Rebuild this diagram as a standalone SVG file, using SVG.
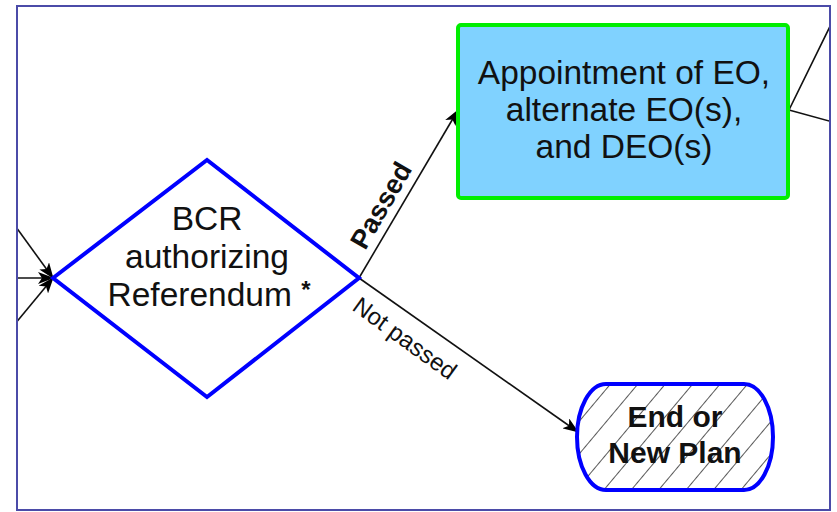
<svg xmlns="http://www.w3.org/2000/svg" width="837" height="512" viewBox="0 0 837 512">
  <style>
    .lbl { font-family: "Liberation Sans", Arial, sans-serif; fill: #111; text-anchor: middle; }
    .big { font-size: 33.5px; }
    .bold { font-weight: bold; }
    .edge { stroke: #111; stroke-width: 1.6; fill: none; }
  </style>
  <defs>
    <marker id="arrow" viewBox="0 0 16 12" markerWidth="16" markerHeight="12" refX="15" refY="6" orient="auto" markerUnits="userSpaceOnUse">
      <path d="M0,0 L16,6 L0,12 L4,6 z" fill="#000"/>
    </marker>
    <pattern id="hatch" width="21" height="21" patternUnits="userSpaceOnUse" patternTransform="rotate(40)">
      <line x1="0" y1="0" x2="0" y2="21" stroke="#111" stroke-width="1.4"/>
    </pattern>
    <clipPath id="frameClip">
      <rect x="17" y="6" width="813" height="504"/>
    </clipPath>
  </defs>

  <rect width="837" height="512" fill="#fff"/>

  <!-- connectors -->
  <g id="connectors" clip-path="url(#frameClip)">
    <line class="edge" x1="0" y1="205" x2="53" y2="278" marker-end="url(#arrow)"/>
    <line class="edge" x1="0" y1="278" x2="53" y2="278" marker-end="url(#arrow)"/>
    <line class="edge" x1="0" y1="342" x2="53" y2="278" marker-end="url(#arrow)"/>
    <line class="edge" x1="359" y1="278" x2="458" y2="110" marker-end="url(#arrow)"/>
    <line class="edge" x1="359" y1="278" x2="578" y2="432" marker-end="url(#arrow)"/>
    <polyline class="edge" points="840,6 789,110 840,124"/>
    <text class="lbl bold" font-size="27" transform="translate(389,210) rotate(-60)">Passed</text>
    <text class="lbl" font-size="24" transform="translate(400,345) rotate(36)">Not passed</text>
  </g>

  <!-- decision -->
  <g id="referendum">
    <polygon points="53,278 207,160 359,278 207,397" fill="#fff" stroke="#0000ff" stroke-width="4" stroke-linejoin="miter"/>
    <text class="lbl big" x="207" y="230">BCR</text>
    <text class="lbl big" x="207" y="268">authorizing</text>
    <text class="lbl big" x="209" y="306">Referendum <tspan class="bold" font-size="24" dy="-8">*</tspan></text>
  </g>

  <!-- appointment step -->
  <g id="appointment">
    <rect x="458" y="25" width="330" height="173" rx="3" fill="#80d2ff" stroke="#00ee00" stroke-width="4"/>
    <text class="lbl big" x="624" y="84">Appointment of EO,</text>
    <text class="lbl big" x="624" y="121">alternate EO(s),</text>
    <text class="lbl big" x="624" y="158">and DEO(s)</text>
  </g>

  <!-- terminator -->
  <g id="end">
    <path d="M606,384 L744,384 A29,53 0 0 1 744,490 L606,490 A29,53 0 0 1 606,384 Z" fill="url(#hatch)" stroke="#0000ff" stroke-width="4"/>
    <text class="lbl bold" font-size="30" x="675" y="427">End or</text>
    <text class="lbl bold" font-size="30" x="675" y="463">New Plan</text>
  </g>

  <!-- frame -->
  <rect x="17" y="6" width="813" height="504" fill="none" stroke="#4b4ba8" stroke-width="2"/>
</svg>
